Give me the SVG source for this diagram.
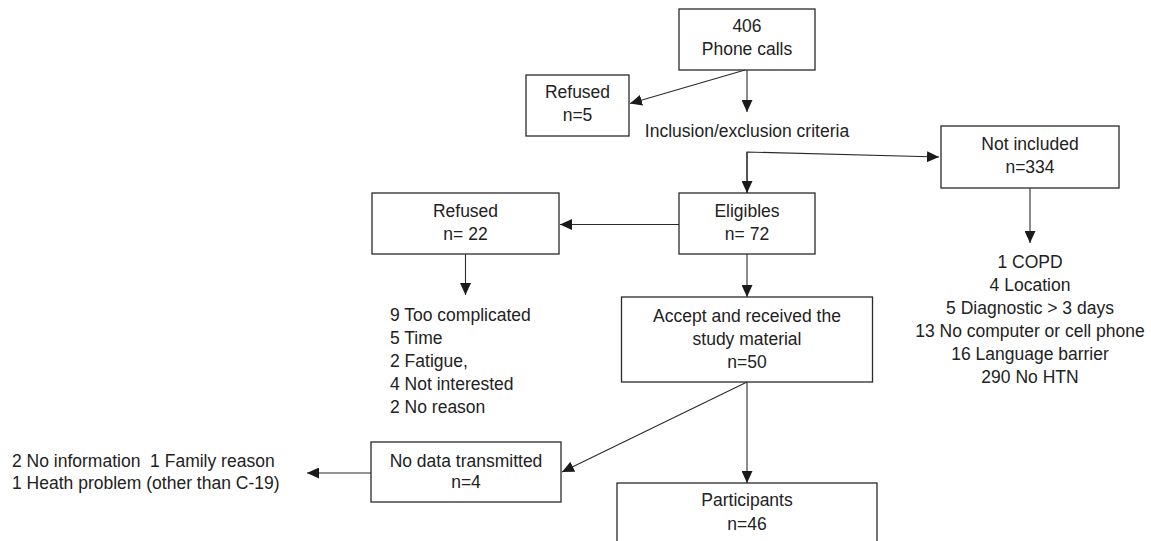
<svg xmlns="http://www.w3.org/2000/svg" width="1151" height="541" viewBox="0 0 1151 541">
<style>
.box{fill:#fff;stroke:#2a2a2a;stroke-width:1.3}
.t{font-family:"Liberation Sans",Arial,sans-serif;font-size:17.5px;fill:#222}
.c{text-anchor:middle}
.pre{white-space:pre}
.ln{stroke:#2a2a2a;stroke-width:1.1;fill:none;marker-end:url(#ah)}
</style>
<defs>
<marker id="ah" markerUnits="userSpaceOnUse" markerWidth="12" markerHeight="11" refX="12" refY="5.5" orient="auto">
<path d="M0,0 L12,5.5 L0,11 z" fill="#1a1a1a"/>
</marker>
</defs>
<rect width="1151" height="541" fill="#fff"/>
<g id="connectors">
<line class="ln" x1="745" y1="70" x2="630" y2="103.5"/>
<line class="ln" x1="747" y1="70" x2="747" y2="112"/>
<polyline class="ln" points="747,193 747,152 939,157"/>
<line class="ln" x1="747" y1="152" x2="747" y2="193"/>
<line class="ln" x1="679" y1="224.5" x2="560" y2="224.5"/>
<line class="ln" x1="465.5" y1="254" x2="465.5" y2="295"/>
<line class="ln" x1="747" y1="254" x2="747" y2="297"/>
<line class="ln" x1="1030" y1="188" x2="1030" y2="243"/>
<line class="ln" x1="747" y1="382" x2="562" y2="472"/>
<line class="ln" x1="747" y1="382" x2="747" y2="483"/>
<line class="ln" x1="371" y1="473" x2="307" y2="473"/>
</g>
<g id="phone">
<rect class="box" x="679" y="9" width="136" height="61"/>
<text class="t c" x="747" y="32">406</text>
<text class="t c" x="747" y="55">Phone calls</text>
</g>
<g id="refused5">
<rect class="box" x="526" y="75" width="103" height="61"/>
<text class="t c" x="577.5" y="98">Refused</text>
<text class="t c" x="577.5" y="121">n=5</text>
</g>
<g id="criteria">
<text class="t c" x="747" y="137">Inclusion/exclusion criteria</text>
</g>
<g id="notincluded">
<rect class="box" x="941" y="126" width="178" height="62"/>
<text class="t c" x="1030" y="150">Not included</text>
<text class="t c" x="1030" y="173">n=334</text>
</g>
<g id="notincluded-reasons">
<text class="t c" x="1030" y="268">1 COPD</text>
<text class="t c" x="1030" y="291">4 Location</text>
<text class="t c" x="1030" y="314">5 Diagnostic &gt; 3 days</text>
<text class="t c" x="1030" y="337">13 No computer or cell phone</text>
<text class="t c" x="1030" y="360">16 Language barrier</text>
<text class="t c" x="1030" y="383">290 No HTN</text>
</g>
<g id="eligibles">
<rect class="box" x="679" y="193" width="136" height="61"/>
<text class="t c" x="747" y="216.5">Eligibles</text>
<text class="t c" x="747" y="240">n= 72</text>
</g>
<g id="refused22">
<rect class="box" x="372" y="193" width="187" height="61"/>
<text class="t c" x="465.5" y="216.5">Refused</text>
<text class="t c" x="465.5" y="240">n= 22</text>
</g>
<g id="refused-reasons">
<text class="t" x="390" y="321">9 Too complicated</text>
<text class="t" x="390" y="344">5 Time</text>
<text class="t" x="390" y="367">2 Fatigue,</text>
<text class="t" x="390" y="390">4 Not interested</text>
<text class="t" x="390" y="413">2 No reason</text>
</g>
<g id="accept">
<rect class="box" x="621.5" y="297" width="251" height="85"/>
<text class="t c" x="747" y="321.5">Accept and received the</text>
<text class="t c" x="747" y="344.5">study material</text>
<text class="t c" x="747" y="368">n=50</text>
</g>
<g id="nodata">
<rect class="box" x="371" y="442" width="190" height="60"/>
<text class="t c" x="466" y="466.5">No data transmitted</text>
<text class="t c" x="466" y="488">n=4</text>
</g>
<g id="nodata-reasons">
<text class="t pre" x="12" y="466.5">2 No information  1 Family reason</text>
<text class="t" x="12" y="488.5">1 Heath problem (other than C-19)</text>
</g>
<g id="participants">
<rect class="box" x="617" y="483" width="260" height="70"/>
<text class="t c" x="747" y="506">Participants</text>
<text class="t c" x="747" y="529.5">n=46</text>
</g>
</svg>
